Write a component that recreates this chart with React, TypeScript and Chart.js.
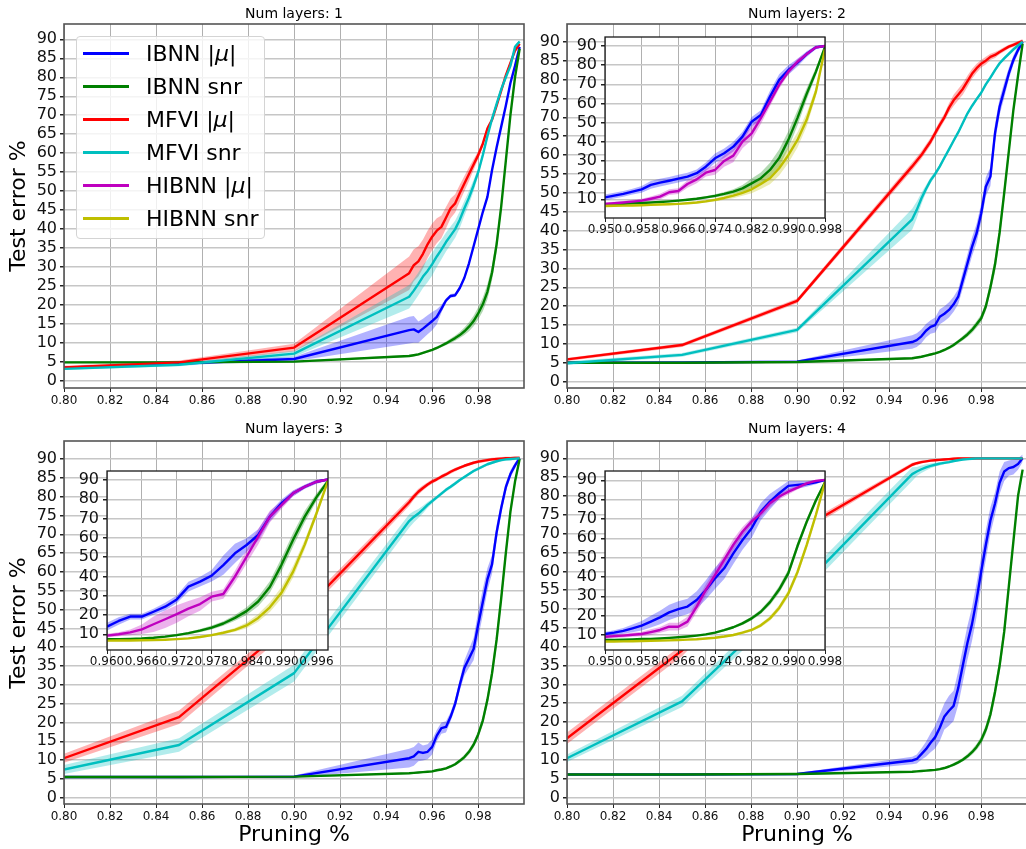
import React, { useEffect, useRef } from "react";
import { Chart, registerables } from "chart.js";

Chart.register(...registerables);

const FONT = "'DejaVu Sans', 'Liberation Sans', sans-serif";

// ---------- x positions ----------
const X_MAIN = [0.80, 0.85, 0.90, 0.950, 0.952, 0.954, 0.956, 0.958, 0.960, 0.962, 0.964, 0.966, 0.968, 0.970, 0.972, 0.974, 0.976, 0.978, 0.980, 0.982, 0.984, 0.986, 0.988, 0.990, 0.992, 0.994, 0.996, 0.998];
const X_INSET = [0.950, 0.952, 0.954, 0.956, 0.958, 0.960, 0.962, 0.964, 0.966, 0.968, 0.970, 0.972, 0.974, 0.976, 0.978, 0.980, 0.982, 0.984, 0.986, 0.988, 0.990, 0.992, 0.994, 0.996, 0.998];
const X_INSET3 = [0.960, 0.962, 0.964, 0.966, 0.968, 0.970, 0.972, 0.974, 0.976, 0.978, 0.980, 0.982, 0.984, 0.986, 0.988, 0.990, 0.992, 0.994, 0.996, 0.998];

// ---------- tick labels ----------
const X_TICKS_MAIN = [0.80, 0.82, 0.84, 0.86, 0.88, 0.90, 0.92, 0.94, 0.96, 0.98];
const Y_TICKS_MAIN = [0, 5, 10, 15, 20, 25, 30, 35, 40, 45, 50, 55, 60, 65, 70, 75, 80, 85, 90];
const X_TICKS_INSET = [0.950, 0.958, 0.966, 0.974, 0.982, 0.990, 0.998];
const X_TICKS_INSET3 = [0.960, 0.966, 0.972, 0.978, 0.984, 0.990, 0.996];
const Y_TICKS_INSET = [10, 20, 30, 40, 50, 60, 70, 80, 90];

const TITLES = ["Num layers: 1", "Num layers: 2", "Num layers: 3", "Num layers: 4"];
const LEGEND_LABELS = ["IBNN |μ|", "IBNN snr", "MFVI |μ|", "MFVI snr", "HIBNN |μ|", "HIBNN snr"];
const Y_LABEL = "Test error %";
const X_LABEL = "Pruning %";

// ---------- Panel 1 ----------
const P1_IBNN_MU = [3.5, 4.6, 5.8, 13.4, 13.6, 12.9, 13.8, 14.8, 15.8, 16.9, 19.0, 21.2, 22.4, 22.6, 24.5, 27.2, 31.0, 35.5, 40.0, 44.5, 48.5, 55.5, 61.5, 67.0, 72.5, 78.5, 83.0, 88.0];
const P1_IBNN_MU_SD = [0.3, 0.4, 0.6, 3.5, 3.5, 2.8, 2.6, 2.5, 2.4, 2.0, 1.0, 0.6, 0.5, 0.5, 0.5, 0.5, 0.5, 0.5, 0.5, 0.5, 0.5, 0.5, 0.5, 0.5, 0.5, 0.5, 0.5, 0.5];
const P1_IBNN_SNR = [4.9, 4.9, 5.1, 6.6, 6.8, 7.0, 7.4, 7.8, 8.2, 8.7, 9.3, 9.9, 10.6, 11.3, 12.1, 13.1, 14.3, 15.8, 17.8, 20.2, 23.5, 28.5, 36.0, 46.0, 58.0, 70.0, 80.0, 87.5];
const P1_IBNN_SNR_SD = [0.2, 0.2, 0.2, 0.3, 0.3, 0.3, 0.3, 0.3, 0.3, 0.4, 0.4, 0.5, 0.6, 0.7, 0.8, 1.0, 1.2, 1.4, 1.6, 1.8, 2.0, 2.0, 2.0, 1.5, 1.0, 0.8, 0.6, 0.5];
const P1_MFVI_MU = [3.6, 4.9, 8.8, 28.4, 30.5, 31.5, 33.5, 36.0, 38.0, 39.6, 40.6, 43.0, 45.5, 46.8, 49.5, 52.0, 54.5, 57.0, 59.5, 62.5, 66.5, 68.8, 72.5, 76.5, 80.5, 83.8, 87.0, 88.8];
const P1_MFVI_MU_SD = [0.4, 0.5, 1.0, 4.4, 4.2, 4.0, 3.8, 3.6, 3.5, 3.3, 3.0, 2.8, 2.6, 2.4, 2.2, 2.0, 1.8, 1.4, 1.0, 0.8, 0.7, 0.6, 0.6, 0.6, 0.6, 0.6, 0.6, 0.6];
const P1_MFVI_SNR = [3.2, 4.3, 7.2, 22.2, 23.8, 25.6, 27.5, 29.0, 30.8, 32.8, 34.6, 36.6, 38.3, 40.0, 42.5, 45.5, 48.3, 51.5, 55.0, 59.5, 64.5, 69.0, 73.0, 76.8, 80.0, 83.0, 88.0, 89.4];
const P1_MFVI_SNR_SD = [0.3, 0.4, 0.8, 3.1, 3.0, 3.0, 3.0, 3.0, 3.0, 2.8, 2.6, 2.5, 2.4, 2.3, 2.2, 2.0, 1.8, 1.5, 1.0, 0.7, 0.6, 0.5, 0.5, 0.5, 0.5, 0.5, 0.5, 0.5];

// ---------- Panel 2 ----------
const P2_IBNN_MU = [5.0, 5.1, 5.3, 10.5, 11.0, 12.0, 13.5, 14.5, 15.0, 17.2, 18.0, 19.0, 20.5, 22.5, 26.9, 31.3, 35.7, 39.3, 44.6, 51.6, 54.3, 65.8, 72.8, 77.2, 81.6, 85.2, 87.8, 90.0];
const P2_IBNN_MU_SD = [0.2, 0.2, 0.3, 1.8, 1.8, 1.8, 1.8, 1.8, 2.0, 2.0, 2.0, 2.0, 2.0, 2.0, 2.2, 2.4, 2.5, 2.5, 2.5, 2.5, 2.5, 2.5, 2.2, 2.0, 1.5, 1.2, 1.0, 0.6];
const P2_IBNN_SNR = [5.0, 5.0, 5.2, 6.2, 6.4, 6.6, 6.9, 7.2, 7.5, 7.9, 8.4, 9.0, 9.7, 10.6, 11.5, 12.5, 13.7, 15.2, 16.8, 19.9, 25.0, 31.0, 39.5, 50.0, 61.0, 72.0, 81.0, 89.5];
const P2_IBNN_SNR_SD = [0.2, 0.2, 0.2, 0.3, 0.3, 0.3, 0.3, 0.3, 0.3, 0.3, 0.4, 0.4, 0.5, 0.5, 0.6, 0.7, 0.8, 0.9, 1.0, 1.2, 1.5, 2.0, 2.0, 2.0, 1.8, 1.5, 1.0, 0.5];
const P2_MFVI_MU = [5.9, 9.7, 21.4, 57.0, 58.5, 60.0, 61.8, 63.6, 65.8, 68.0, 70.0, 72.5, 74.5, 76.0, 77.5, 79.5, 81.5, 83.0, 84.2, 85.0, 86.0, 86.5, 87.3, 88.0, 88.7, 89.2, 89.7, 90.2];
const P2_MFVI_MU_SD = [0.4, 0.5, 0.6, 1.0, 1.0, 1.0, 1.0, 1.0, 1.0, 1.0, 1.0, 1.2, 1.5, 1.5, 1.5, 1.5, 1.3, 1.2, 1.0, 1.0, 0.8, 0.8, 0.6, 0.6, 0.5, 0.5, 0.5, 0.5];
const P2_MFVI_SNR = [4.9, 7.1, 13.7, 43.0, 45.5, 48.5, 51.0, 53.3, 55.0, 57.0, 59.3, 61.5, 63.8, 66.0, 68.5, 71.0, 73.0, 74.8, 76.5, 78.7, 80.5, 82.5, 84.3, 85.6, 86.8, 88.0, 89.0, 90.0];
const P2_MFVI_SNR_SD = [0.5, 0.5, 0.6, 2.8, 2.2, 1.5, 1.0, 0.8, 0.6, 0.6, 0.5, 0.5, 0.5, 0.5, 0.5, 0.5, 0.5, 0.5, 0.5, 0.5, 0.5, 0.5, 0.5, 0.5, 0.5, 0.5, 0.5, 0.5];

// ---------- Panel 3 ----------
const P3_IBNN_MU = [5.5, 5.5, 5.6, 10.5, 11.0, 12.2, 11.9, 12.2, 13.5, 16.5, 18.5, 18.8, 21.5, 25.0, 30.0, 34.5, 37.0, 39.5, 46.0, 52.0, 58.0, 62.0, 70.5, 77.0, 82.5, 86.0, 88.3, 90.2];
const P3_IBNN_MU_SD = [0.2, 0.2, 0.3, 2.5, 2.5, 2.5, 2.0, 2.0, 2.0, 1.5, 1.5, 1.5, 1.2, 1.2, 1.5, 2.0, 2.5, 3.0, 3.5, 3.5, 3.0, 2.5, 2.0, 1.5, 1.2, 1.0, 0.8, 0.5];
const P3_IBNN_SNR = [5.5, 5.5, 5.6, 6.5, 6.6, 6.7, 6.8, 6.9, 7.0, 7.3, 7.5, 7.8, 8.3, 8.9, 9.8, 10.8, 12.2, 14.1, 16.8, 20.5, 26.0, 33.0, 42.0, 53.0, 65.0, 76.0, 84.0, 90.0];
const P3_IBNN_SNR_SD = [0.2, 0.2, 0.2, 0.2, 0.2, 0.2, 0.2, 0.2, 0.3, 0.3, 0.3, 0.3, 0.4, 0.4, 0.5, 0.6, 0.7, 0.8, 1.0, 1.2, 1.5, 1.8, 2.0, 2.0, 1.8, 1.5, 1.0, 0.5];
const P3_MFVI_MU = [10.5, 21.4, 47.0, 78.5, 80.0, 81.3, 82.3, 83.2, 84.0, 84.6, 85.3, 85.9, 86.6, 87.2, 87.7, 88.2, 88.6, 89.0, 89.3, 89.5, 89.7, 89.9, 90.0, 90.1, 90.2, 90.2, 90.3, 90.3];
const P3_MFVI_MU_SD = [1.2, 1.8, 1.5, 1.0, 0.8, 0.8, 0.7, 0.6, 0.6, 0.5, 0.5, 0.5, 0.5, 0.5, 0.4, 0.4, 0.4, 0.4, 0.4, 0.4, 0.4, 0.4, 0.4, 0.4, 0.4, 0.4, 0.4, 0.4];
const P3_MFVI_SNR = [7.5, 14.0, 33.1, 73.5, 74.6, 75.5, 76.6, 77.8, 78.8, 79.8, 80.8, 81.8, 82.6, 83.5, 84.4, 85.2, 86.0, 86.8, 87.4, 88.0, 88.6, 89.0, 89.4, 89.7, 89.9, 90.0, 90.1, 90.2];
const P3_MFVI_SNR_SD = [1.2, 1.8, 2.2, 1.8, 1.5, 1.2, 1.0, 0.8, 0.6, 0.5, 0.5, 0.5, 0.5, 0.5, 0.4, 0.4, 0.4, 0.4, 0.4, 0.4, 0.4, 0.4, 0.4, 0.4, 0.4, 0.4, 0.4, 0.4];

// ---------- Panel 4 ----------
const P4_IBNN_MU = [6.1, 6.1, 6.2, 9.8, 10.2, 11.5, 12.8, 14.5, 16.0, 18.5, 21.5, 23.0, 24.3, 29.0, 35.0, 41.0, 46.0, 52.5, 60.0, 67.0, 73.5, 78.0, 83.5, 86.5, 87.4, 87.7, 88.5, 90.0];
const P4_IBNN_MU_SD = [0.2, 0.2, 0.3, 1.0, 1.2, 1.5, 2.0, 2.5, 3.0, 3.5, 3.5, 4.0, 4.0, 4.5, 4.5, 4.5, 4.5, 4.5, 4.0, 4.0, 3.5, 3.0, 3.0, 2.5, 2.0, 2.0, 1.5, 1.0];
const P4_IBNN_SNR = [6.1, 6.1, 6.2, 6.8, 6.9, 7.0, 7.1, 7.2, 7.3, 7.5, 7.8, 8.2, 8.7, 9.3, 10.0, 10.9, 12.0, 13.4, 15.2, 18.0, 22.0, 28.0, 35.0, 44.0, 56.0, 68.0, 80.0, 87.0];
const P4_IBNN_SNR_SD = [0.2, 0.2, 0.2, 0.2, 0.2, 0.2, 0.2, 0.2, 0.3, 0.3, 0.3, 0.3, 0.4, 0.4, 0.5, 0.6, 0.7, 0.8, 1.0, 1.2, 1.5, 1.8, 2.0, 2.0, 1.8, 1.5, 1.0, 0.5];
const P4_MFVI_MU = [15.7, 39.0, 70.5, 88.3, 88.7, 89.0, 89.2, 89.4, 89.5, 89.6, 89.7, 89.8, 89.9, 90.0, 90.0, 90.0, 90.0, 90.0, 90.0, 90.0, 90.0, 90.0, 90.0, 90.0, 90.0, 90.0, 90.0, 90.0];
const P4_MFVI_MU_SD = [1.5, 1.5, 1.0, 0.5, 0.4, 0.4, 0.3, 0.3, 0.3, 0.3, 0.3, 0.3, 0.3, 0.3, 0.3, 0.3, 0.3, 0.3, 0.3, 0.3, 0.3, 0.3, 0.3, 0.3, 0.3, 0.3, 0.3, 0.3];
const P4_MFVI_SNR = [10.4, 25.5, 54.5, 85.8, 86.5, 87.1, 87.6, 88.0, 88.3, 88.6, 88.8, 89.0, 89.3, 89.5, 89.7, 89.8, 89.9, 90.0, 90.0, 90.0, 90.0, 90.0, 90.0, 90.0, 90.0, 90.0, 90.0, 90.0];
const P4_MFVI_SNR_SD = [1.0, 1.5, 2.0, 1.8, 1.2, 1.0, 0.8, 0.6, 0.5, 0.5, 0.4, 0.4, 0.4, 0.3, 0.3, 0.3, 0.3, 0.3, 0.3, 0.3, 0.3, 0.3, 0.3, 0.3, 0.3, 0.3, 0.3, 0.3];

// ---------- Inset of panel 2 ----------
const IN2_IBNN_MU = [11.0, 11.9, 12.8, 14.0, 15.2, 17.5, 18.7, 19.7, 20.8, 21.8, 23.6, 27.0, 31.4, 34.0, 37.5, 42.7, 50.5, 54.0, 63.6, 72.3, 77.5, 81.3, 85.8, 89.3, 90.0];
const IN2_IBNN_MU_SD = [1.5, 1.5, 1.5, 1.5, 1.8, 2.0, 2.0, 2.0, 2.0, 2.0, 2.0, 2.2, 2.5, 2.5, 2.5, 2.5, 2.5, 2.5, 3.0, 3.0, 2.5, 2.0, 1.5, 1.0, 0.5];
const IN2_IBNN_SNR = [7.4, 7.5, 7.7, 7.9, 8.1, 8.3, 8.6, 8.9, 9.3, 9.8, 10.3, 11.0, 11.8, 12.8, 14.0, 15.7, 18.3, 21.0, 25.3, 31.5, 41.0, 52.5, 65.0, 76.5, 89.5];
const IN2_IBNN_SNR_SD = [0.3, 0.3, 0.3, 0.3, 0.3, 0.3, 0.3, 0.4, 0.4, 0.5, 0.5, 0.6, 0.8, 1.0, 1.3, 1.8, 2.5, 3.0, 3.8, 4.5, 4.5, 4.0, 3.0, 2.0, 1.0];
const IN2_HIBNN_MU = [7.6, 7.9, 8.3, 8.8, 9.3, 10.3, 11.4, 13.7, 14.3, 18.0, 20.4, 23.9, 25.3, 30.0, 32.8, 40.1, 44.4, 52.3, 61.0, 69.7, 76.6, 81.8, 85.8, 89.3, 90.0];
const IN2_HIBNN_MU_SD = [0.8, 0.8, 0.8, 1.0, 1.0, 1.2, 1.5, 1.5, 1.5, 2.0, 2.0, 2.0, 2.5, 3.0, 3.5, 3.5, 3.5, 3.0, 2.5, 2.0, 1.5, 1.5, 1.0, 0.8, 0.5];
const IN2_HIBNN_SNR = [6.5, 6.6, 6.7, 6.8, 6.9, 7.1, 7.3, 7.4, 7.6, 7.9, 8.3, 8.9, 9.7, 10.7, 11.9, 13.4, 15.2, 18.0, 21.0, 26.2, 33.0, 41.0, 51.5, 66.0, 88.5];
const IN2_HIBNN_SNR_SD = [0.3, 0.3, 0.3, 0.3, 0.3, 0.3, 0.3, 0.3, 0.4, 0.4, 0.5, 0.6, 0.8, 1.0, 1.3, 1.6, 2.0, 2.6, 3.2, 3.8, 4.0, 4.0, 3.5, 2.5, 1.0];

// ---------- Inset of panel 3 ----------
const IN3_IBNN_MU = [14.0, 16.9, 19.2, 19.2, 21.7, 24.3, 28.1, 34.7, 37.3, 40.4, 45.9, 52.0, 56.3, 61.5, 71.0, 77.9, 83.1, 86.5, 89.1, 90.3];
const IN3_IBNN_MU_SD = [2.0, 2.0, 1.5, 1.5, 1.5, 2.0, 2.0, 2.5, 2.5, 3.0, 5.0, 5.0, 3.5, 3.0, 2.5, 2.0, 1.5, 1.0, 1.0, 0.5];
const IN3_IBNN_SNR = [7.4, 7.5, 7.6, 7.8, 8.2, 8.8, 9.6, 10.6, 11.9, 13.5, 15.6, 18.5, 22.0, 27.0, 34.5, 46.0, 59.0, 71.0, 81.0, 89.5];
const IN3_IBNN_SNR_SD = [0.3, 0.3, 0.3, 0.3, 0.3, 0.4, 0.5, 0.6, 0.8, 1.0, 1.2, 1.5, 2.0, 2.5, 3.0, 3.5, 3.5, 3.0, 2.0, 1.0];
const IN3_HIBNN_MU = [9.3, 10.0, 11.0, 12.6, 15.2, 17.8, 20.5, 23.3, 25.7, 29.5, 30.9, 39.9, 50.2, 60.6, 71.0, 77.0, 83.1, 86.5, 89.1, 90.3];
const IN3_HIBNN_MU_SD = [1.0, 1.0, 1.5, 2.5, 4.0, 4.5, 4.5, 4.0, 3.5, 2.5, 2.5, 3.0, 3.5, 4.0, 3.0, 2.0, 1.5, 1.0, 1.0, 0.5];
const IN3_HIBNN_SNR = [6.7, 6.75, 6.8, 6.9, 7.0, 7.2, 7.5, 7.9, 8.6, 9.6, 10.8, 12.3, 14.6, 18.5, 24.0, 31.5, 42.5, 56.5, 72.5, 89.5];
const IN3_HIBNN_SNR_SD = [0.3, 0.3, 0.3, 0.3, 0.3, 0.3, 0.3, 0.4, 0.5, 0.6, 0.8, 1.0, 1.5, 2.0, 2.5, 3.0, 3.0, 2.5, 2.0, 1.0];

// ---------- Inset of panel 4 ----------
const IN4_IBNN_MU = [10.5, 11.2, 12.1, 13.4, 14.8, 16.9, 19.1, 21.7, 23.4, 24.7, 28.1, 33.3, 39.3, 44.5, 52.2, 59.1, 65.2, 73.8, 79.0, 83.3, 87.1, 87.6, 88.1, 89.0, 90.2];
const IN4_IBNN_MU_SD = [1.0, 1.2, 1.5, 2.0, 2.5, 3.0, 3.5, 4.0, 4.0, 4.0, 4.5, 5.0, 5.5, 5.5, 5.5, 5.0, 5.0, 4.5, 4.0, 3.0, 2.5, 2.0, 1.5, 1.0, 0.5];
const IN4_IBNN_SNR = [7.4, 7.5, 7.6, 7.7, 7.9, 8.0, 8.2, 8.5, 8.8, 9.2, 9.7, 10.3, 11.2, 12.5, 14.0, 16.0, 18.6, 22.0, 27.0, 33.5, 42.0, 56.0, 68.5, 79.5, 89.0];
const IN4_IBNN_SNR_SD = [0.3, 0.3, 0.3, 0.3, 0.3, 0.3, 0.3, 0.3, 0.3, 0.3, 0.4, 0.4, 0.5, 0.6, 0.7, 0.8, 1.0, 1.2, 1.5, 1.8, 2.0, 2.0, 1.8, 1.5, 1.0];
const IN4_HIBNN_MU = [9.1, 9.4, 9.7, 10.1, 10.5, 11.5, 12.6, 14.3, 14.3, 16.9, 24.7, 33.3, 41.0, 48.8, 56.6, 63.4, 68.6, 72.9, 78.1, 81.6, 84.1, 86.2, 88.4, 89.7, 90.2];
const IN4_HIBNN_MU_SD = [1.0, 1.0, 1.0, 1.0, 1.2, 1.5, 1.5, 2.0, 2.0, 2.5, 3.0, 3.0, 3.0, 3.0, 3.0, 2.5, 2.0, 2.0, 2.0, 1.5, 1.5, 1.0, 1.0, 0.5, 0.5];
const IN4_HIBNN_SNR = [6.6, 6.65, 6.7, 6.8, 6.9, 7.0, 7.1, 7.2, 7.4, 7.6, 7.8, 8.2, 8.6, 9.2, 10.0, 11.2, 12.6, 15.0, 18.6, 24.0, 31.5, 42.5, 56.5, 72.0, 89.0];
const IN4_HIBNN_SNR_SD = [0.3, 0.3, 0.3, 0.3, 0.3, 0.3, 0.3, 0.3, 0.3, 0.3, 0.4, 0.4, 0.5, 0.5, 0.6, 0.7, 0.8, 1.0, 1.2, 1.5, 1.8, 2.0, 2.0, 1.5, 1.0];

// ---------- styles ----------
const C_BLUE = "#0000ff", F_BLUE = "rgba(0,0,255,0.3)";
const C_GREEN = "#008000", F_GREEN = "rgba(0,128,0,0.3)";
const C_RED = "#ff0000", F_RED = "rgba(255,0,0,0.3)";
const C_CYAN = "#00bfbf", F_CYAN = "rgba(0,191,191,0.3)";
const C_MAG = "#bf00bf", F_MAG = "rgba(191,0,191,0.3)";
const C_YEL = "#bfbf00", F_YEL = "rgba(191,191,0,0.3)";
const LEGEND_COLORS = [C_BLUE, C_GREEN, C_RED, C_CYAN, C_MAG, C_YEL];

type SeriesSpec = { y: number[]; sd: number[]; color: string; fill: string };
type PlotSpec = {
  L: number; T: number; R: number; B: number;
  xs: number[]; series: SeriesSpec[];
  xMin: number; xMax: number; yMin: number; yMax: number;
  xTicks: number[]; yTicks: number[]; xDec: number; inset: boolean;
};

const YW = 60, XH = 30, PT = 20, PR = 24;

const mainSeries = (a: number[], as: number[], b: number[], bs: number[], c: number[], cs: number[], d: number[], ds: number[]): SeriesSpec[] => [
  { y: a, sd: as, color: C_BLUE, fill: F_BLUE },
  { y: b, sd: bs, color: C_GREEN, fill: F_GREEN },
  { y: c, sd: cs, color: C_RED, fill: F_RED },
  { y: d, sd: ds, color: C_CYAN, fill: F_CYAN },
];
const insetSeries = (a: number[], as: number[], b: number[], bs: number[], c: number[], cs: number[], d: number[], ds: number[]): SeriesSpec[] => [
  { y: a, sd: as, color: C_BLUE, fill: F_BLUE },
  { y: b, sd: bs, color: C_GREEN, fill: F_GREEN },
  { y: c, sd: cs, color: C_MAG, fill: F_MAG },
  { y: d, sd: ds, color: C_YEL, fill: F_YEL },
];

const MAIN_X = { xMin: 0.8, xMax: 0.9999, xTicks: X_TICKS_MAIN, yTicks: Y_TICKS_MAIN, xDec: 2, inset: false, xs: X_MAIN };

const PLOTS: PlotSpec[] = [
  { ...MAIN_X, L: 64, T: 24, R: 524, B: 388, yMin: -1.84, yMax: 94.03,
    series: mainSeries(P1_IBNN_MU, P1_IBNN_MU_SD, P1_IBNN_SNR, P1_IBNN_SNR_SD, P1_MFVI_MU, P1_MFVI_MU_SD, P1_MFVI_SNR, P1_MFVI_SNR_SD) },
  { ...MAIN_X, L: 567, T: 24, R: 1027, B: 388, yMin: -1.67, yMax: 94.7,
    series: mainSeries(P2_IBNN_MU, P2_IBNN_MU_SD, P2_IBNN_SNR, P2_IBNN_SNR_SD, P2_MFVI_MU, P2_MFVI_MU_SD, P2_MFVI_SNR, P2_MFVI_SNR_SD) },
  { ...MAIN_X, L: 64, T: 441, R: 524, B: 804, yMin: -1.67, yMax: 94.78,
    series: mainSeries(P3_IBNN_MU, P3_IBNN_MU_SD, P3_IBNN_SNR, P3_IBNN_SNR_SD, P3_MFVI_MU, P3_MFVI_MU_SD, P3_MFVI_SNR, P3_MFVI_SNR_SD) },
  { ...MAIN_X, L: 567, T: 441, R: 1027, B: 804, yMin: -1.75, yMax: 94.6,
    series: mainSeries(P4_IBNN_MU, P4_IBNN_MU_SD, P4_IBNN_SNR, P4_IBNN_SNR_SD, P4_MFVI_MU, P4_MFVI_MU_SD, P4_MFVI_SNR, P4_MFVI_SNR_SD) },
  { L: 605, T: 37, R: 825, B: 218, xs: X_INSET, xMin: 0.95, xMax: 0.998, yMin: 0.24, yMax: 94.7,
    xTicks: X_TICKS_INSET, yTicks: Y_TICKS_INSET, xDec: 3, inset: true,
    series: insetSeries(IN2_IBNN_MU, IN2_IBNN_MU_SD, IN2_IBNN_SNR, IN2_IBNN_SNR_SD, IN2_HIBNN_MU, IN2_HIBNN_MU_SD, IN2_HIBNN_SNR, IN2_HIBNN_SNR_SD) },
  { L: 107, T: 471, R: 328, B: 650, xs: X_INSET3, xMin: 0.96, xMax: 0.998, yMin: 1.86, yMax: 94.67,
    xTicks: X_TICKS_INSET3, yTicks: Y_TICKS_INSET, xDec: 3, inset: true,
    series: insetSeries(IN3_IBNN_MU, IN3_IBNN_MU_SD, IN3_IBNN_SNR, IN3_IBNN_SNR_SD, IN3_HIBNN_MU, IN3_HIBNN_MU_SD, IN3_HIBNN_SNR, IN3_HIBNN_SNR_SD) },
  { L: 605, T: 471, R: 825, B: 650, xs: X_INSET, xMin: 0.95, xMax: 0.998, yMin: 2.24, yMax: 94.8,
    xTicks: X_TICKS_INSET, yTicks: Y_TICKS_INSET, xDec: 3, inset: true,
    series: insetSeries(IN4_IBNN_MU, IN4_IBNN_MU_SD, IN4_IBNN_SNR, IN4_IBNN_SNR_SD, IN4_HIBNN_MU, IN4_HIBNN_MU_SD, IN4_HIBNN_SNR, IN4_HIBNN_SNR_SD) },
];

const framePlugin = (color: string, width: number, whiteBg: boolean) => ({
  id: "frame",
  beforeDraw(chart: any) {
    if (!whiteBg) return;
    const { ctx, chartArea: a } = chart;
    ctx.save();
    ctx.fillStyle = "#ffffff";
    ctx.fillRect(a.left, a.top, a.right - a.left, a.bottom - a.top);
    ctx.restore();
  },
  afterDraw(chart: any) {
    const { ctx, chartArea: a } = chart;
    ctx.save();
    ctx.strokeStyle = color;
    ctx.lineWidth = width;
    ctx.strokeRect(a.left, a.top, a.right - a.left, a.bottom - a.top);
    ctx.restore();
  },
});

function PlotCanvas({ spec }: { spec: PlotSpec }) {
  const ref = useRef<HTMLCanvasElement | null>(null);
  const w = YW + (spec.R - spec.L) + PR;
  const h = PT + (spec.B - spec.T) + XH;

  useEffect(() => {
    if (!ref.current) return;
    const datasets: any[] = [];
    spec.series.forEach((s, i) => {
      datasets.push({
        data: spec.xs.map((x, k) => ({ x, y: s.y[k] + s.sd[k] })),
        borderWidth: 0, borderColor: "rgba(0,0,0,0)", pointRadius: 0, fill: false, order: 200 - i,
      });
      datasets.push({
        data: spec.xs.map((x, k) => ({ x, y: s.y[k] - s.sd[k] })),
        borderWidth: 0, borderColor: "rgba(0,0,0,0)", backgroundColor: s.fill, pointRadius: 0, fill: "-1", order: 200 - i,
      });
    });
    spec.series.forEach((s, i) => {
      datasets.push({
        data: spec.xs.map((x, k) => ({ x, y: s.y[k] })),
        borderColor: s.color, borderWidth: 2.4, pointRadius: 0, fill: false, order: 100 - i,
        borderJoinStyle: "round", borderCapStyle: "butt",
      });
    });

    const tickCol = "#111";
    const chart = new Chart(ref.current, {
      type: "line",
      data: { datasets },
      plugins: [framePlugin(spec.inset ? "#1a1a1a" : "#555555", spec.inset ? 1.3 : 1.6, spec.inset)],
      options: {
        animation: false,
        responsive: false,
        maintainAspectRatio: false,
        events: [],
        layout: { padding: { left: 0, top: PT, right: PR, bottom: 0 } },
        plugins: { legend: { display: false }, tooltip: { enabled: false }, title: { display: false } },
        scales: {
          x: {
            type: "linear",
            bounds: "data",
            min: spec.xMin,
            max: spec.xMax,
            afterBuildTicks: (s: any) => { s.ticks = spec.xTicks.map((v) => ({ value: v })); },
            afterFit: (s: any) => { s.height = XH; },
            ticks: {
              autoSkip: false, maxRotation: 0, minRotation: 0, padding: spec.inset ? 1 : 2,
              color: tickCol, font: { family: FONT, size: 12 },
              callback: (v: any) => Number(v).toFixed(spec.xDec),
            },
            grid: { color: "#b0b0b0", lineWidth: 1, tickColor: "#222", tickLength: 4, drawTicks: true },
            border: { display: false },
          },
          y: {
            type: "linear",
            bounds: "data",
            min: spec.yMin,
            max: spec.yMax,
            afterBuildTicks: (s: any) => { s.ticks = spec.yTicks.map((v) => ({ value: v })); },
            afterFit: (s: any) => { s.width = YW; },
            ticks: {
              autoSkip: false, padding: spec.inset ? 4 : 3,
              color: tickCol, font: { family: FONT, size: 16 },
              callback: (v: any) => String(Math.round(Number(v))),
            },
            grid: { color: "#c6c6c6", lineWidth: 1.5, tickColor: "#222", tickLength: 4, drawTicks: true },
            border: { display: false },
          },
        },
      } as any,
    });
    return () => chart.destroy();
  }, []);

  return (
    <canvas
      ref={ref}
      width={w}
      height={h}
      style={{ position: "absolute", left: spec.L - YW, top: spec.T - PT, width: w, height: h }}
    />
  );
}

function LegendLabel({ text }: { text: string }) {
  const parts = text.split("μ");
  if (parts.length === 1) return <>{text}</>;
  return (
    <>
      {parts[0]}
      <i>μ</i>
      {parts[1]}
    </>
  );
}

export default function App() {
  const titleBase: React.CSSProperties = {
    position: "absolute", transform: "translate(-50%, -50%)", fontFamily: FONT,
    fontSize: 14, lineHeight: "16px", whiteSpace: "nowrap", color: "#000",
  };
  const axisBase: React.CSSProperties = {
    position: "absolute", fontFamily: FONT, fontSize: 22, lineHeight: "26px",
    whiteSpace: "nowrap", color: "#000",
  };
  const titlePos = [
    { x: 294, y: 12.7 }, { x: 797, y: 12.7 }, { x: 294, y: 428.1 }, { x: 797, y: 428.1 },
  ];
  return (
    <div style={{ position: "absolute", left: 0, top: 0, width: 1026, height: 849, overflow: "hidden", background: "#fff" }}>
      {PLOTS.slice(0, 4).map((p, i) => <PlotCanvas key={"m" + i} spec={p} />)}
      {PLOTS.slice(4).map((p, i) => <PlotCanvas key={"i" + i} spec={p} />)}

      {TITLES.map((t, i) => (
        <div key={"t" + i} style={{ ...titleBase, left: titlePos[i].x, top: titlePos[i].y }}>{t}</div>
      ))}

      {[206, 623].map((cy, i) => (
        <div key={"yl" + i} style={{ ...axisBase, left: 17.5, top: cy, transform: "translate(-50%, -50%) rotate(-90deg)" }}>{Y_LABEL}</div>
      ))}
      {[294, 797].map((cx, i) => (
        <div key={"xl" + i} style={{ ...axisBase, left: cx, top: 834, transform: "translate(-50%, -50%)" }}>{X_LABEL}</div>
      ))}

      <div style={{
        position: "absolute", left: 76, top: 36, width: 189, height: 203, boxSizing: "border-box",
        border: "1px solid #d4d4d4", borderRadius: 4, background: "rgba(255,255,255,0.8)",
      }} />
      {LEGEND_LABELS.map((lab, i) => {
        const cy = 53.5 + 33 * i;
        return (
          <React.Fragment key={"lg" + i}>
            <div style={{ position: "absolute", left: 83, top: cy - 1.25, width: 45.5, height: 2.5, background: LEGEND_COLORS[i] }} />
            <div style={{
              position: "absolute", left: 146, top: cy - 13, height: 26, lineHeight: "26px",
              fontFamily: FONT, fontSize: 22, whiteSpace: "nowrap", color: "#000",
            }}>
              <LegendLabel text={lab} />
            </div>
          </React.Fragment>
        );
      })}
    </div>
  );
}
